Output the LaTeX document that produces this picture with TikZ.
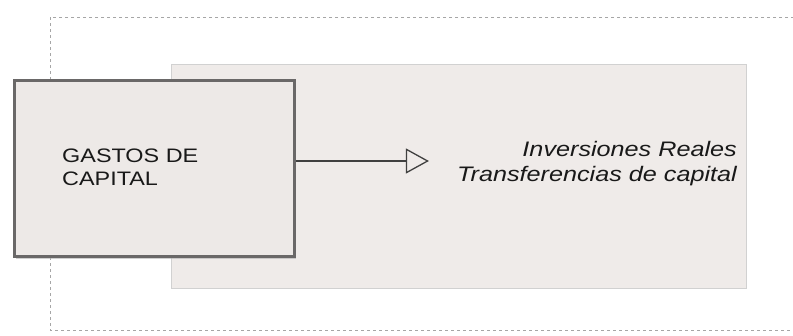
\documentclass[tikz,border=0pt]{standalone}
\usepackage{fontspec}
\setmainfont{Liberation Sans}
\newfontfamily\ancha[FakeStretch=1.2]{Liberation Sans}
\usepackage{xcolor}
\usetikzlibrary{arrows.meta,shadows}
\definecolor{caja}{HTML}{EDE9E7}
\definecolor{fondo}{HTML}{EFEBE9}
\definecolor{borde}{HTML}{6A6868}

\begin{document}
\begin{tikzpicture}[x=1pt,y=-1pt,
    principal/.style={draw=borde, line width=3pt, fill=caja, minimum width=280pt, minimum height=176pt,
        drop shadow={shadow xshift=2pt, shadow yshift=-3pt, fill=black!30, opacity=0.6}},
    lista/.style={font=\ancha\itshape\fontsize{21}{25}\selectfont, align=right, text=black!90, inner sep=0pt},
    flecha/.style={-{Triangle[open,length=23pt,width=25pt,line width=1.3pt]}, line width=1.3pt, draw=black!75}]
        \useasboundingbox (0,0) rectangle (793,335);
        \fill[white] (0,0) rectangle (793,335);
        \coordinate (O) at (50,17); %marco%
        \coordinate (F) at (820,330);
        \draw[black!35, dashed, line width=1pt] (O) rectangle (F); %marco punteado%
        \draw[fill=fondo, draw=black!18, line width=1pt] (171,64) rectangle (746,288); %fondo%

  \node[principal] (gastos) at (154,168) {};
  \node[anchor=west, align=left, font=\ancha\fontsize{19.5}{23}\selectfont, text=black!90, inner sep=0pt]
        (etiqueta) at (62,167) {GASTOS DE\\CAPITAL};
  \node[lista, anchor=east] (destino) at (737,164) {Inversiones Reales\\Transferencias de capital};

  \draw[flecha, shorten >=28pt] (gastos.east |- 0,161) -- (destino.west |- 0,161);
\end{tikzpicture}
\end{document}
